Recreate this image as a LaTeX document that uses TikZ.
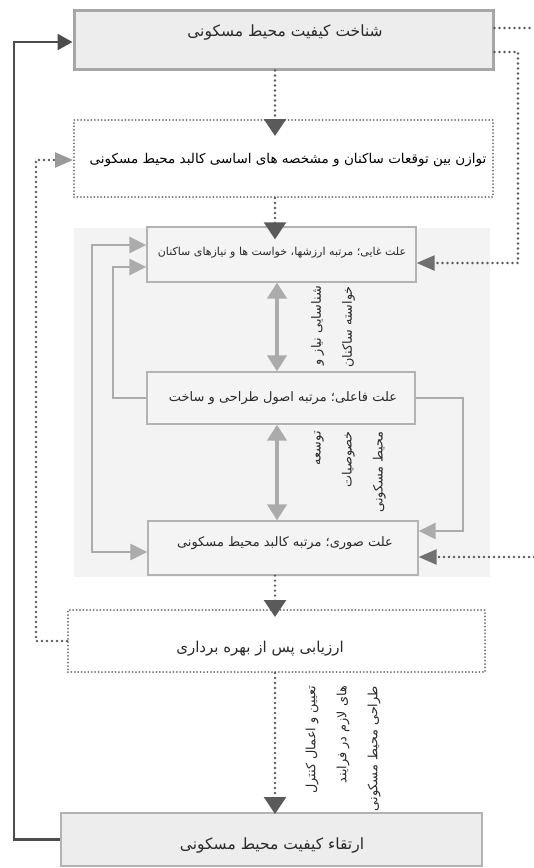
\documentclass[tikz,border=0pt]{standalone}
\usepackage{fontspec}
\newfontfamily\fa[Script=Arabic]{DejaVu Sans}
\TeXXeTstate=1
\usetikzlibrary{arrows.meta,calc}
\definecolor{panelc}{HTML}{F3F3F3}
\definecolor{boxfill}{HTML}{F4F4F4}
\definecolor{boxline}{HTML}{B3B3B3}
\definecolor{topfill}{HTML}{EDEDED}
\definecolor{topline}{HTML}{A6A6A6}
\definecolor{dotc}{HTML}{5A5A5A}
\definecolor{dotbox}{HTML}{707070}
\definecolor{darkc}{HTML}{4D4D4D}
\definecolor{grayc}{HTML}{ABABAB}
\definecolor{lgtip}{HTML}{9A9A9A}
\definecolor{txtc}{HTML}{2A2A2A}
\begin{document}
\begin{tikzpicture}[x=1pt,y=-1pt,
  solidbox/.style={draw=boxline, fill=boxfill, line width=1.3pt, inner sep=0pt},
  topbox/.style={draw=topline, fill=topfill, line width=3pt, inner sep=0pt},
  botbox/.style={draw=boxline, fill=topfill, line width=2pt, inner sep=0pt},
  dotbox/.style={draw=dotbox, line width=2pt, line cap=round, dash pattern=on 0pt off 3.4pt, inner sep=0pt},
  txt/.style={text=txtc, inner sep=0pt, font=\fa\fontsize{#1}{#1}\selectfont},
  lbl/.style={text=txtc, inner sep=0pt, rotate=90, anchor=east, align=right, font=\fa\fontsize{12.8}{31}\selectfont},
  dotline/.style={draw=dotc, line width=2.6pt, line cap=round, dash pattern=on 0pt off 5pt},
  darktip/.style={-{Triangle[length=17pt,width=22pt]}},
  midtip/.style={-{Triangle[length=18pt,width=15pt,color=dotbox]}},
  lighttip/.style={-{Triangle[length=18pt,width=15pt,color=lgtip]}},
  panelline/.style={draw=grayc, line width=2.6pt},
  paneltip/.style={-{Triangle[length=17pt,width=16pt]}},
  dbl/.style={draw=grayc, line width=4pt, {Triangle[length=16pt,width=19pt]}-{Triangle[length=16pt,width=19pt]}},
  solidline/.style={draw=darkc, line width=2.6pt}
]
\useasboundingbox (0,0) rectangle (534,868);
% panel
\fill[panelc] (74,228) rectangle (490,577);
% rotated labels
\node[lbl] (l1) at (333,286) {{\beginR شناسایی نیاز و\endR}\\{\beginR خواسته ساکنان\endR}};
\node[lbl] (l2) at (350,431) {{\beginR توسعه\endR}\\{\beginR خصوصیات\endR}\\{\beginR محیط مسکونی\endR}};
\node[lbl] (l3) at (343,686) {{\beginR تعیین و اعمال کنترل\endR}\\{\beginR های لازم در فرایند\endR}\\{\beginR طراحی محیط مسکونی\endR}};
% boxes
\node[topbox, minimum width=419pt, minimum height=59pt] (b1) at (283.5,39.5) {};
\node[dotbox, minimum width=419pt, minimum height=77pt] (b2) at (283.5,158.5) {};
\node[solidbox, minimum width=269pt, minimum height=55pt] (b3) at (281.5,254.5) {};
\node[solidbox, minimum width=268pt, minimum height=52pt] (b4) at (281,398) {};
\node[solidbox, minimum width=270pt, minimum height=54pt] (b5) at (283,548) {};
\node[dotbox, minimum width=417pt, minimum height=62pt] (b6) at (276.5,641) {};
\node[botbox, minimum width=421pt, minimum height=53pt] (b7) at (271.5,839.5) {};
% texts
\node[txt=15.5] (t1) at (285,33) {\beginR شناخت کیفیت محیط مسکونی\endR};
\node[txt=13.5, text=black] (t2) at (288,160) {\beginR توازن بین توقعات ساکنان و مشخصه های اساسی کالبد محیط مسکونی\endR};
\node[txt=11] (t3) at (282,253) {\beginR علت غایی؛ مرتبه ارزشها، خواست ها و نیازهای ساکنان\endR};
\node[txt=13] (t4) at (283,398) {\beginR علت فاعلی؛ مرتبه اصول طراحی و ساخت\endR};
\node[txt=13] (t5) at (285,543) {\beginR علت صوری؛ مرتبه کالبد محیط مسکونی\endR};
\node[txt=15] (t6) at (260,649) {\beginR ارزیابی پس از بهره برداری\endR};
\node[txt=15.5] (t7) at (272,845) {\beginR ارتقاء کیفیت محیط مسکونی\endR};
% helper coordinates
\coordinate (ax) at (275,0);
\coordinate (dx) at (277,0);
\coordinate (p1) at (113,267);
\coordinate (q1) at (92,245);
\coordinate (q2) at (92,552);
\coordinate (r1) at (463,531);
\coordinate (s1) at (14,42);
\coordinate (t0) at (36,160);
\coordinate (u0) at (518,52);
\coordinate (u1) at (518,263);
\coordinate (v0) at (534,28);
\coordinate (w0) at (534,557);
% panel connectors
\draw[dbl] (b3.south -| dx) -- (b4.north -| dx);
\draw[dbl] (b4.south -| dx) -- (b5.north -| dx);
\draw[panelline, paneltip] (b4.west) -| (p1) -- (b3.west |- p1);
\draw[panelline, {Triangle[length=17pt,width=16pt]}-{Triangle[length=17pt,width=16pt]}] (b3.west |- q1) -- (q1) -- (q2) -- (b5.west |- q2);
\draw[panelline, paneltip] (b4.east) -| (r1) -- (b5.east |- r1);
% dotted flow
\draw[dotline, darktip, shorten >=-17pt] (b1.south -| ax) -- (b2.north -| ax);
\draw[dotline, darktip, shorten >=-13pt] (b2.south -| ax) -- (b3.north -| ax);
\draw[dotline, darktip, shorten >=-8pt] (b5.south -| ax) -- (b6.north -| ax);
\draw[dotline, darktip, shorten >=-2pt] (b6.south -| ax) -- (b7.north -| ax);
\draw[dotline] (b1.east |- v0) -- (v0);
\draw[dotline, midtip] (b1.east |- u0) -| (u1) -- (b3.east |- u1);
\draw[dotline, midtip] (w0) -- (b5.east |- w0);
\draw[dotline, lighttip] (b6.west) -| (t0) -- (b2.west |- t0);
% solid feedback
\draw[solidline, -{Triangle[length=15pt,width=16pt]}] (b7.west) -| (s1) -- (b1.west |- s1);
\end{tikzpicture}
\end{document}
